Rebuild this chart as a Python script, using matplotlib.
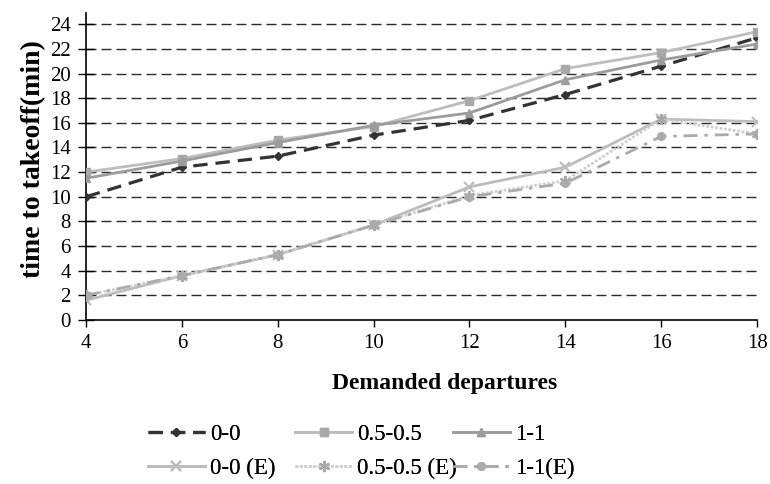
import matplotlib
matplotlib.use("Agg")
import matplotlib.pyplot as plt

departures = [4, 6, 8, 10, 12, 14, 16, 18]
s00 = [10.0, 12.4, 13.3, 15.0, 16.2, 18.3, 20.6, 22.9]
s0505 = [12.0, 13.1, 14.6, 15.7, 17.8, 20.4, 21.7, 23.4]
s11 = [11.5, 12.9, 14.4, 15.8, 16.8, 19.5, 21.1, 22.4]
s00e = [1.6, 3.6, 5.3, 7.7, 10.8, 12.4, 16.3, 16.1]
s0505e = [2.0, 3.6, 5.3, 7.7, 10.1, 11.3, 16.3, 15.1]
s11e = [2.0, 3.6, 5.3, 7.7, 10.0, 11.1, 14.9, 15.1]
labels = ["0-0", "0.5-0.5", "1-1", "0-0 (E)", "0.5-0.5 (E)", "1-1(E)"]
yticks = list(range(0, 25, 2))

plt.rcParams['font.family'] = ['Liberation Serif', 'DejaVu Serif']

fig = plt.figure(figsize=(7.7, 4.84), dpi=100)
ax = fig.add_axes([0.1117, 0.3388, 0.8715, 0.634])

for y in yticks[1:]:
    ax.axhline(y, color='#2a2a2a', lw=1.0, ls=(0, (7.2, 3.6)), zorder=1)

series = [
    (s00, dict(color='#333333', lw=2.3, ls=(0, (4.5, 2.5)), marker='D', ms=4)),
    (s0505, dict(color='#bdbdbd', lw=2.0, ls='-', marker='s', ms=5.5, mfc='#a8a8a8', mec='#a8a8a8')),
    (s11, dict(color='#9c9c9c', lw=2.0, ls='-', marker='^', ms=5.5)),
    (s00e, dict(color='#bcbcbc', lw=2.0, ls='-', marker='x', ms=7, mew=1.5)),
    (s0505e, dict(color='#cfcfcf', lw=2.0, ls=(0, (1, 0.6)), marker=(6, 2, 0), ms=8, mew=1.5, mec='#a8a8a8')),
    (s11e, dict(color='#ababab', lw=2.0, ls=(0, (5, 2.5, 1.2, 2.5)), marker='o', ms=5.5)),
]
handles = []
for data, kw in series:
    h, = ax.plot(departures, data, zorder=3, **kw)
    handles.append(h)

ax.set_xlim(4, 18)
ax.set_ylim(0, 24.9)
ax.set_xticks(departures)
ax.set_yticks(yticks)
for s in ['top', 'right']:
    ax.spines[s].set_visible(False)
for s in ['left', 'bottom']:
    ax.spines[s].set_linewidth(1.2)
ax.tick_params(axis='y', direction='inout', length=12, width=1.0, labelsize=15, pad=5)
ax.tick_params(axis='x', direction='out', length=5, width=1.0, labelsize=15, pad=5)
ax.set_xlabel("Demanded departures", fontsize=17, fontweight='bold')
ax.xaxis.set_label_coords(0.535, -0.172)
ax.set_ylabel("time to takeoff(min)", fontsize=20, fontweight='bold')
ax.yaxis.set_label_coords(-0.06, 0.525)

# legend, 3 columns placed individually
col_x = [0.192, 0.383, 0.588]
for i, cx in enumerate(col_x):
    leg = fig.legend([handles[i], handles[i + 3]], [labels[i], labels[i + 3]],
                     loc='upper left', bbox_to_anchor=(cx, 0.124), frameon=False,
                     fontsize=16.5, handlelength=2.5, handletextpad=0.2,
                     labelspacing=0.55, borderaxespad=0, borderpad=0)
    fig.add_artist(leg)

fig.savefig("out.png", dpi=100)
